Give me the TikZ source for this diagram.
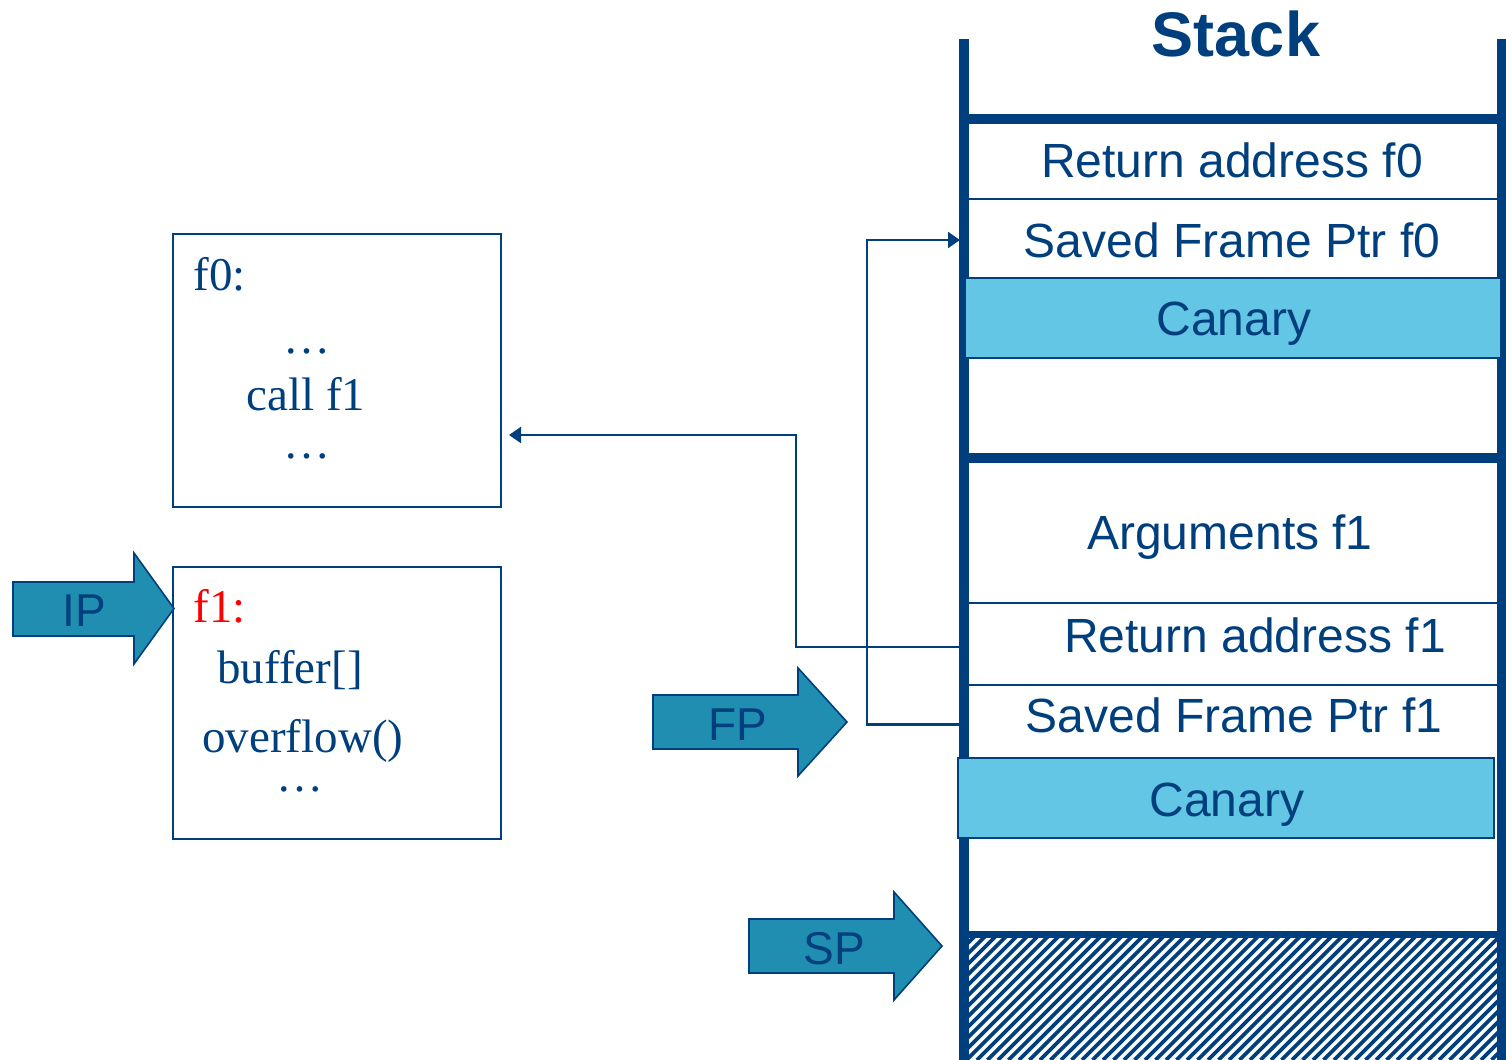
\documentclass[tikz,border=0pt]{standalone}
\usepackage{fontspec}
\setmainfont{Liberation Serif}
\newfontfamily\sansf{Liberation Sans}
\usetikzlibrary{arrows.meta}
\definecolor{navy}{RGB}{0,63,125}
\definecolor{ptrfill}{RGB}{32,142,176}
\definecolor{canaryfill}{RGB}{98,198,228}
\definecolor{labelred}{RGB}{255,0,0}

\begin{document}
\begin{tikzpicture}[x=0.5pt,y=-0.5pt,
  wall/.style={line width=5pt,navy},
  sep/.style={line width=1pt,navy},
  slot/.style={rectangle,inner sep=0pt,outer sep=0pt,minimum width=264pt},
  canary/.style={rectangle,inner sep=0pt,outer sep=0pt,draw=navy,line width=0.9pt,
    fill=canaryfill,minimum width=268pt,minimum height=40pt},
  slottext/.style={font=\sansf\fontsize{24}{28}\selectfont,text=navy,anchor=base,inner sep=0pt},
  code/.style={rectangle,draw=navy,line width=1pt,minimum width=164pt,inner sep=0pt},
  codetext/.style={font=\fontsize{23.5}{28}\selectfont,text=navy,anchor=base west,inner sep=0pt},
  dots/.style={codetext,anchor=base,text height=3pt,text depth=0pt},
  ptr/.style={draw=navy,line width=0.8pt,fill=ptrfill},
  ptrtext/.style={font=\sansf\fontsize{23}{27}\selectfont,text=navy,anchor=base,inner sep=0pt},
  link/.style={navy,line width=1.1pt,-{Triangle[length=6pt,width=8pt]}},
]
\useasboundingbox (0,0) rectangle (1506,1060);

% ---------- stack slots ----------
\node[slot,minimum height=38.5pt] (raf0) at (1233,160.5) {};
\node[slot,minimum height=39.5pt] (sfp0) at (1233,238.5) {};
\node[slot,minimum height=70.5pt] (arg1) at (1233,532.5) {};
\node[slot,minimum height=41pt]   (raf1) at (1233,644) {};
\node[slot,minimum height=36.5pt] (sfp1) at (1233,721.5) {};

% ---------- code boxes ----------
\node[code,minimum height=136.5pt] (f0box) at (337,370.5) {};
\node[code,minimum height=136pt]   (f1box) at (337,703) {};

% ---------- links from saved slots ----------
\draw[link] ([yshift=-1.5pt]raf1.west) -- ++(-173,0) |- ([xshift=3.5pt,yshift=-32.25pt]f0box.east);
\draw[link] ([yshift=-1.5pt]sfp1.west) -- ++(-102,0) |- ([xshift=-4.5pt,yshift=-0.75pt]sfp0.west);

% ---------- slot separators ----------
\draw[sep] (raf0.south west) -- (raf0.south east);
\draw[sep] (arg1.south west) -- (arg1.south east);
\draw[sep] (raf1.south west) -- (raf1.south east);

% ---------- unused region below SP ----------
\begin{scope}
  \clip (969,935) rectangle (1497,1060);
  \foreach \x in {830,840.5,...,1500}
    \draw[navy,line width=1.8pt] (\x,1060) -- ({\x+128},932);
\end{scope}

% ---------- stack walls ----------
\draw[wall] (964,39) -- (964,1060);
\draw[wall] (1502,39) -- (1502,1060);
\draw[wall] (964,119) -- (1502,119);
\draw[wall] (964,458) -- (1502,458);
\draw[navy,line width=3.5pt] (964,934.5) -- (1502,934.5);

% ---------- canaries ----------
\node[canary] (can0) at (1233,318) {};
\node[canary] (can1) at (1226,798) {};

% ---------- stack labels ----------
\node[font=\sansf\bfseries\fontsize{31.5}{36}\selectfont,text=navy,anchor=base,inner sep=0pt]
  (title) at (1236,56) {Stack};
\node[slottext] (traf0) at (1232,177) {Return address f0};
\node[slottext] (tsfp0) at (1232,257) {Saved Frame Ptr f0};
\node[slottext] (tcan0) at (1234,335) {Canary};
\node[slottext] (targ1) at (1230,549) {Arguments f1};
\node[slottext] (traf1) at (1255,652) {Return address f1};
\node[slottext] (tsfp1) at (1234,732) {Saved Frame Ptr f1};
\node[slottext] (tcan1) at (1227,816) {Canary};

% ---------- code text ----------
\node[codetext] (f0name) at (193,290.5) {f0:};
\node[dots]     (f0d1)   at (307,353) {…};
\node[codetext] (f0call) at (246,410.7) {call f1};
\node[dots]     (f0d2)   at (307,458) {…};
\node[codetext,text=labelred] (f1name) at (193,622) {f1:};
\node[codetext] (f1buf)  at (217,683) {buffer[]};
\node[codetext] (f1ovf)  at (202,752) {overflow()};
\node[dots]     (f1d1)   at (300,791) {…};

% ---------- register pointers ----------
\draw[ptr] (13,582) -- (134,582) -- (134,553) -- (174,608.5) -- (134,664) -- (134,636) -- (13,636) -- cycle;
\node[ptrtext] (ip) at (84,626) {IP};
\draw[ptr] (653,695) -- (798,695) -- (798,668) -- (847,722) -- (798,776) -- (798,749) -- (653,749) -- cycle;
\node[ptrtext] (fp) at (738,740) {FP};
\draw[ptr] (749,919) -- (894,919) -- (894,892) -- (942,946) -- (894,1000) -- (894,973) -- (749,973) -- cycle;
\node[ptrtext] (sp) at (834,964) {SP};
\end{tikzpicture}
\end{document}
